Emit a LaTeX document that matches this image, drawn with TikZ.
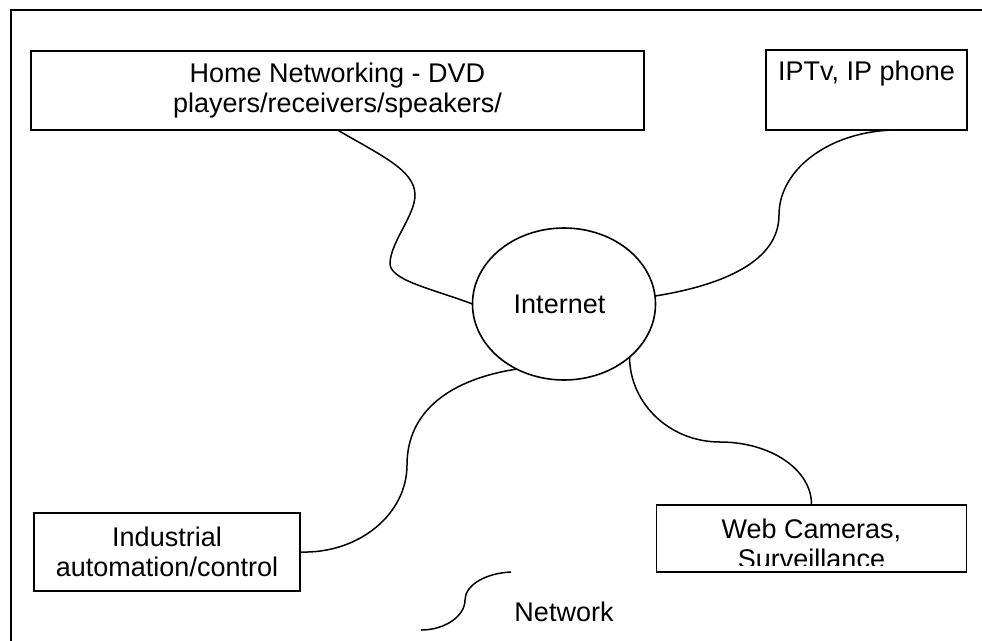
\documentclass[tikz,border=0pt]{standalone}
\usepackage{fontspec}
\setmainfont{Liberation Sans}
\usetikzlibrary{shapes.geometric}
\begin{document}
\begin{tikzpicture}[x=1pt,y=-1pt,
  every node/.style={font=\fontsize{27}{30}\selectfont, inner sep=0pt, outer sep=0pt},
  boxnode/.style={draw, line width=1.8pt, rectangle, align=center},
  cloudnode/.style={draw, ellipse, line width=1.6pt},
  wire/.style={line width=1.5pt},
  framebox/.style={line width=1.8pt}
]
\useasboundingbox (0,0) rectangle (982,640);
\begin{scope}
  \clip (0,0) rectangle (982,640);
  \draw[framebox] (11,10) rectangle (1010,680);
\end{scope}

% boxes
\node[boxnode, minimum width=613pt, minimum height=79pt] (home) at (337.5,90.5)
  {Home Networking - DVD\\players/receivers/speakers/};
\node[boxnode, minimum width=201pt, minimum height=80pt] (iptv) at (866.5,90)
  {IPTv, IP phone\\\strut};
\node[boxnode, minimum width=266pt, minimum height=78pt] (industrial) at (167,552)
  {Industrial\\automation/control};
\node[boxnode, minimum width=310pt, minimum height=67pt] (web) at (811.5,538.5) {};
\begin{scope}
  \clip (656,505) rectangle (967,565.5);
  \node[align=center] (webtext) at (811.5,544) {Web Cameras,\\Surveillance};
\end{scope}

% internet
\node[cloudnode, minimum width=183pt, minimum height=152pt] (internet) at (564,304)
  {Internet\hspace*{9pt}};

% connectors
\draw[wire] (home.south) .. controls (380,155) and (415,170) .. (415,195)
  .. controls (415,215) and (392,240) .. (390,262)
  .. controls (388,280) and (430,288) .. (internet.west);
\draw[wire] ([xshift=31pt]iptv.south) .. controls (832,130) and (779,168) .. (779,215)
  .. controls (779,261) and (723.7,285) .. (internet.5);
\draw[wire] (internet.234) .. controls (452,379) and (407,410) .. (407,465)
  .. controls (407,514) and (359,554) .. (industrial.east);
\draw[wire] (internet.321) .. controls (630,404) and (670,442) .. (720,442)
  .. controls (771,442) and (812,470) .. (web.north);

% legend
\coordinate (legA) at (511,572);
\coordinate (legB) at (421,630);
\draw[wire] (legA) .. controls (486,573) and (465,585) .. (465,600)
  .. controls (465,616) and (445,630) .. (legB);
\node (netlabel) at (564,612) {Network};
\end{tikzpicture}
\end{document}
